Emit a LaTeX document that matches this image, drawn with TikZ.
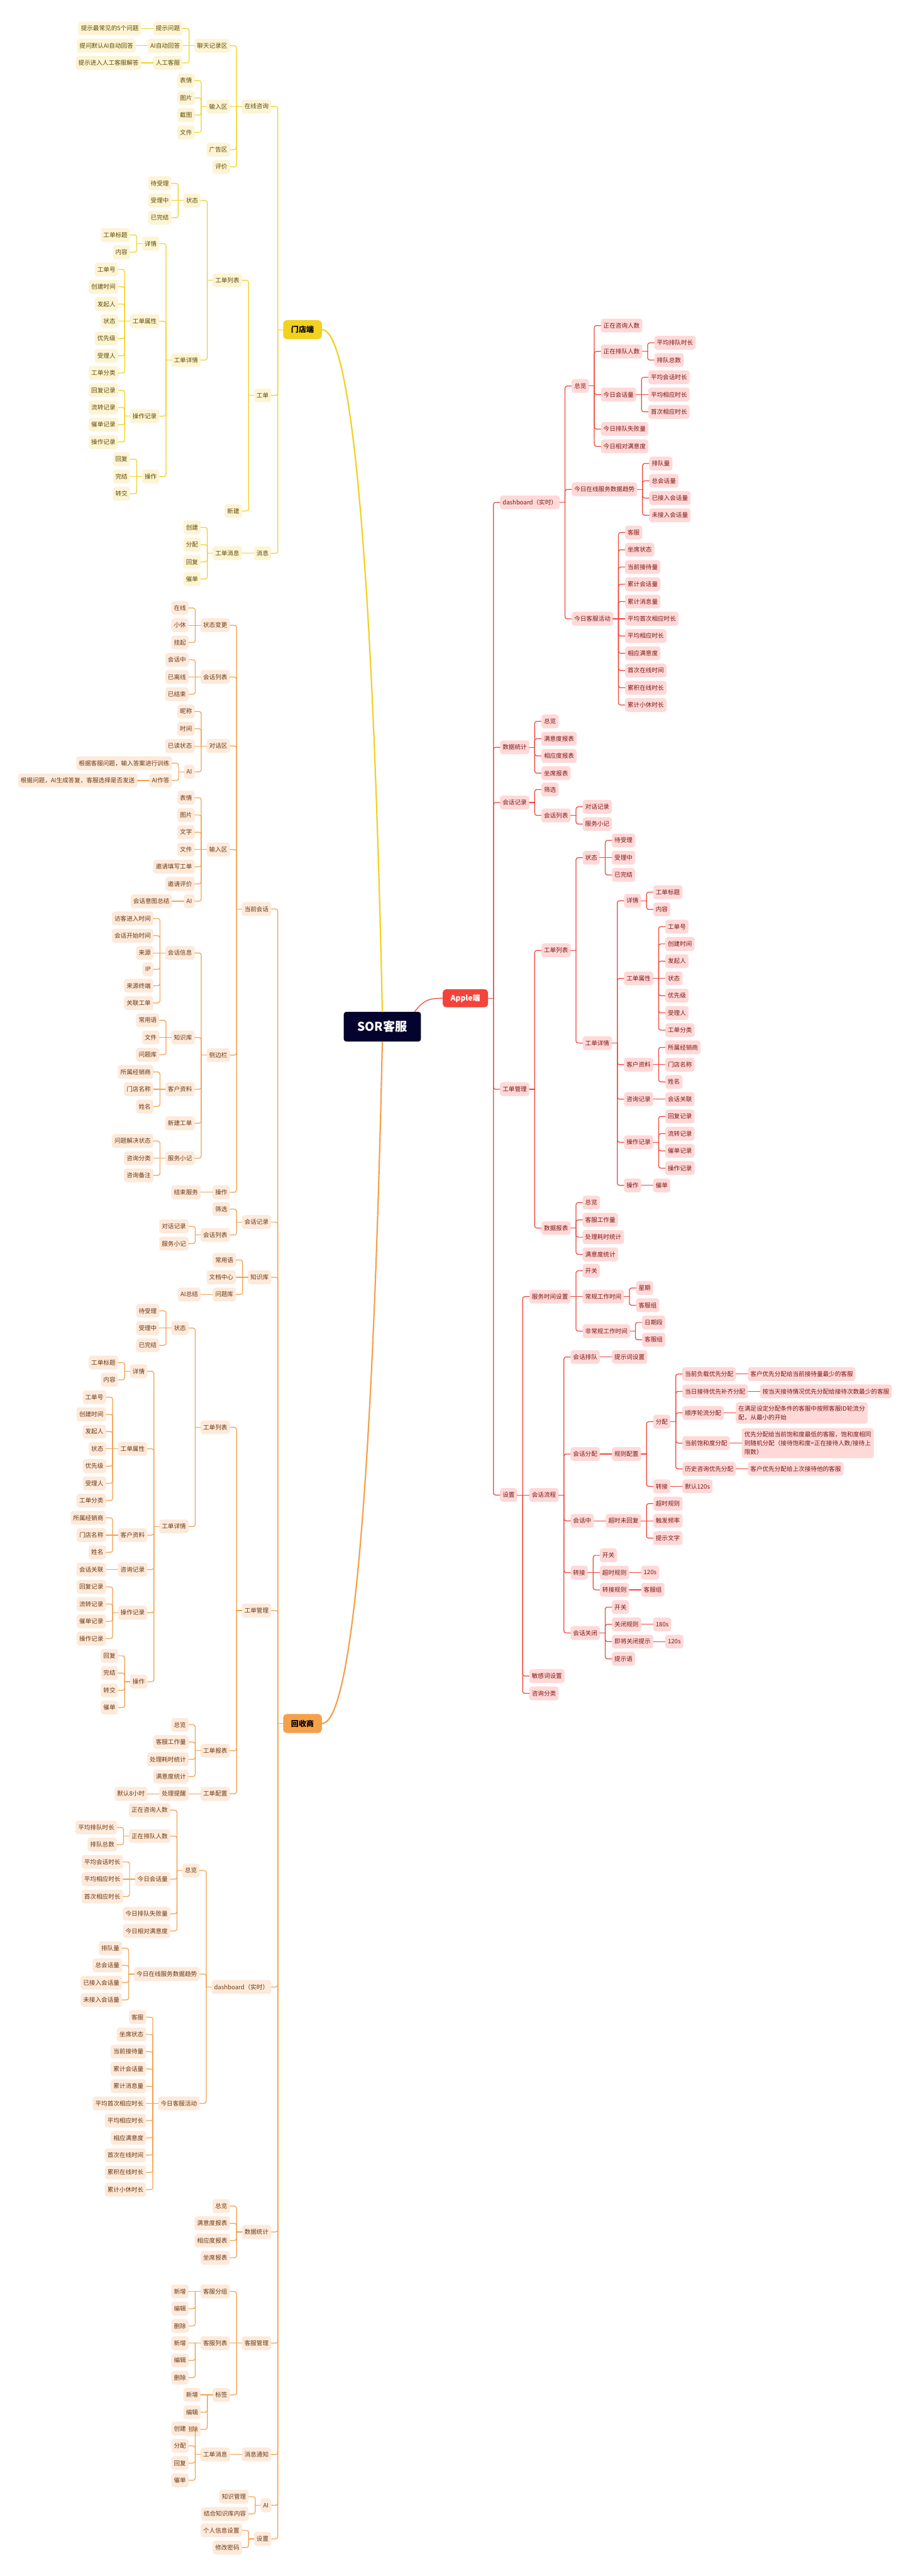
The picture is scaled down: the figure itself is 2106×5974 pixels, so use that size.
\documentclass[tikz,border=0pt]{standalone}
\usepackage{fontspec}
\newfontfamily\cjk{Noto Sans CJK SC}
\usetikzlibrary{calc}

\definecolor{yline}{HTML}{F2D11F}
\definecolor{yfill}{HTML}{FCF4D4}
\definecolor{ytext}{HTML}{5E4B05}
\definecolor{oline}{HTML}{F5A04A}
\definecolor{ofill}{HTML}{FDEADB}
\definecolor{otext}{HTML}{6B3812}
\definecolor{rline}{HTML}{F2443A}
\definecolor{rfill}{HTML}{FFD9D8}
\definecolor{rtext}{HTML}{7A1612}
\definecolor{navy}{HTML}{03032E}

\tikzset{
  nd/.style={font=\cjk\fontsize{7}{10.2}\selectfont, rounded corners=3pt,
    inner xsep=3pt, inner ysep=4pt, minimum height=16pt, align=left},
  lf/.style={nd}, rf/.style={nd}, br/.style={},
  trunk/.style={font=\cjk\bfseries\fontsize{8.8}{10}\selectfont,
    rounded corners=4pt, minimum width=44.8pt, minimum height=22pt},
}

\newdimen\brya
\newdimen\bryb

% child on the left: name, parent, y, text
\newcommand\lk[4]{%
  \node[lf,anchor=east] (#1) at ($(#2.west |- 0,#3)+(-27,0)$) {#4};
  \pgfextracty{\brya}{\pgfpointanchor{#2}{west}}%
  \pgfextracty{\bryb}{\pgfpointanchor{#1}{east}}%
  \advance\brya by -\bryb
  \ifdim\brya<0pt \brya=-\brya\fi
  \ifdim\brya<0.5pt
    \draw[br] (#2.west) -- (#1.east);
  \else
    \draw[br] (#2.west) -- ++(-12,0);
    \draw[br,rounded corners=2.5pt] (#2.west) ++(-12,0) |- (#1.east);
  \fi}

% child on the right
\newcommand\rk[4]{%
  \node[rf,anchor=west] (#1) at ($(#2.east |- 0,#3)+(27,0)$) {#4};
  \pgfextracty{\brya}{\pgfpointanchor{#2}{east}}%
  \pgfextracty{\bryb}{\pgfpointanchor{#1}{west}}%
  \advance\brya by -\bryb
  \ifdim\brya<0pt \brya=-\brya\fi
  \ifdim\brya<0.5pt
    \draw[br] (#2.east) -- (#1.west);
  \else
    \draw[br] (#2.east) -- ++(12,0);
    \draw[br,rounded corners=2.5pt] (#2.east) ++(12,0) |- (#1.west);
  \fi}

\begin{document}
\begin{tikzpicture}[x=0.5pt,y=-0.5pt,line cap=round,line join=round]
  \useasboundingbox (0,0) rectangle (2106,5974);
  \fill[white] (0,0) rectangle (2106,5974);

  % centre and the three sides
  \node[fill=navy,text=white,font=\cjk\bfseries\fontsize{14}{16}\selectfont,
    rounded corners=3pt,minimum width=89.5pt,minimum height=34.5pt] (r) at (886.8,2381) {SOR客服};
  \node[trunk,fill=yline,text=black] (m) at (701.6,764.5) {门店端};
  \node[trunk,fill=oline,text=black] (h) at (701.6,3997) {回收商};
  \node[trunk,fill=rline,text=white,minimum width=52.5pt,minimum height=21pt] (a) at (1079.5,2315) {Apple端};
  \draw[yline,line width=1.6pt] (m.east) .. controls +(54,0) and +(-27,-1247) .. (r.north);
  \draw[oline,line width=1.6pt] (h.east) .. controls +(54,0) and +(-27,1247) .. (r.south);
  \draw[rline,line width=0.9pt] (r.north) ++(75,0) .. controls +(20,-25) and +(-35,0) .. (a.west);

  % 门店端
  \begin{scope}[lf/.style={nd,fill=yfill,text=ytext}, br/.style={draw=yline,line width=0.9pt}]
    \lk{m1}{m}{247}{在线咨询}
    \lk{m1-1}{m1}{106}{聊天记录区}
    \foreach \txt/\sub [count=\n] in {提示问题/提示最常见的5个问题,AI自动回答/提问默认AI自动回答,人工客服/提示进入人工客服解答}{
      \lk{m1-1-\n}{m1-1}{26+40*\n}{\txt}
      \lk{m1-1-\n-1}{m1-1-\n}{26+40*\n}{\sub}
    }
    \lk{m1-2}{m1}{247}{输入区}
    \foreach \txt [count=\n] in {表情,图片,截图,文件} {\lk{m1-2-\n}{m1-2}{147+40*\n}{\txt}}
    \lk{m1-3}{m1}{347}{广告区}
    \lk{m1-4}{m1}{387}{评价}
    \lk{m2}{m}{917}{工单}
    \lk{m2-1}{m2}{650}{工单列表}
    \lk{m2-1-1}{m2-1}{465}{状态}
    \foreach \txt [count=\n] in {待受理,受理中,已完结} {\lk{m2-1-1-\n}{m2-1-1}{385+40*\n}{\txt}}
    \lk{m2-1-2}{m2-1}{835}{工单详情}
    \lk{m2-1-2-1}{m2-1-2}{565}{详情}
    \foreach \txt [count=\n] in {工单标题,内容} {\lk{m2-1-2-1-\n}{m2-1-2-1}{505+40*\n}{\txt}}
    \lk{m2-1-2-2}{m2-1-2}{745}{工单属性}
    \foreach \txt [count=\n] in {工单号,创建时间,发起人,状态,优先级,受理人,工单分类} {\lk{m2-1-2-2-\n}{m2-1-2-2}{585+40*\n}{\txt}}
    \lk{m2-1-2-3}{m2-1-2}{965}{操作记录}
    \foreach \txt [count=\n] in {回复记录,流转记录,催单记录,操作记录} {\lk{m2-1-2-3-\n}{m2-1-2-3}{865+40*\n}{\txt}}
    \lk{m2-1-2-4}{m2-1-2}{1105}{操作}
    \foreach \txt [count=\n] in {回复,完结,转交} {\lk{m2-1-2-4-\n}{m2-1-2-4}{1025+40*\n}{\txt}}
    \lk{m2-2}{m2}{1185}{新建}
    \lk{m3}{m}{1283}{消息}
    \lk{m3-1}{m3}{1283}{工单消息}
    \foreach \txt [count=\n] in {创建,分配,回复,催单} {\lk{m3-1-\n}{m3-1}{1183+40*\n}{\txt}}
  \end{scope}

  % 回收商
  \begin{scope}[lf/.style={nd,fill=ofill,text=otext}, br/.style={draw=oline,line width=0.9pt}]
    \lk{h1}{h}{2108}{当前会话}
    \lk{h1-1}{h1}{1450}{状态变更}
    \foreach \txt [count=\n] in {在线,小休,挂起} {\lk{h1-1-\n}{h1-1}{1370+40*\n}{\txt}}
    \lk{h1-2}{h1}{1570}{会话列表}
    \foreach \txt [count=\n] in {会话中,已离线,已结束} {\lk{h1-2-\n}{h1-2}{1490+40*\n}{\txt}}
    \lk{h1-3}{h1}{1730}{对话区}
    \foreach \txt [count=\n] in {昵称,时间,已读状态} {\lk{h1-3-\n}{h1-3}{1610+40*\n}{\txt}}
    \lk{h1-3-4}{h1-3}{1790}{AI}
    \lk{h1-3-4-1}{h1-3-4}{1770}{根据客服问题，输入答案进行训练}
    \lk{h1-3-4-2}{h1-3-4}{1810}{AI作答}
    \lk{h1-3-4-2-1}{h1-3-4-2}{1810}{根据问题，AI生成答复，客服选择是否发送}
    \lk{h1-4}{h1}{1970}{输入区}
    \foreach \txt [count=\n] in {表情,图片,文字,文件,邀请填写工单,邀请评价,AI} {\lk{h1-4-\n}{h1-4}{1810+40*\n}{\txt}}
    \lk{h1-4-7-1}{h1-4-7}{2090}{会话意图总结}
    \lk{h1-5}{h1}{2447}{侧边栏}
    \lk{h1-5-1}{h1-5}{2210}{会话信息}
    \foreach \txt/\yy [count=\n] in {访客进入时间/2130,会话开始时间/2170,来源/2210,IP/2248,来源终端/2286,关联工单/2326} {\lk{h1-5-1-\n}{h1-5-1}{\yy}{\txt}}
    \lk{h1-5-2}{h1-5}{2406}{知识库}
    \foreach \txt [count=\n] in {常用语,文件,问题库} {\lk{h1-5-2-\n}{h1-5-2}{2326+40*\n}{\txt}}
    \lk{h1-5-3}{h1-5}{2526}{客户资料}
    \foreach \txt [count=\n] in {所属经销商,门店名称,姓名} {\lk{h1-5-3-\n}{h1-5-3}{2446+40*\n}{\txt}}
    \lk{h1-5-4}{h1-5}{2605}{新建工单}
    \lk{h1-5-5}{h1-5}{2686}{服务小记}
    \foreach \txt [count=\n] in {问题解决状态,咨询分类,咨询备注} {\lk{h1-5-5-\n}{h1-5-5}{2606+40*\n}{\txt}}
    \lk{h1-6}{h1}{2765}{操作}
    \lk{h1-6-1}{h1-6}{2765}{结束服务}
    \lk{h2}{h}{2834}{会话记录}
    \lk{h2-1}{h2}{2804}{筛选}
    \lk{h2-2}{h2}{2864}{会话列表}
    \lk{h2-2-1}{h2-2}{2844}{对话记录}
    \lk{h2-2-2}{h2-2}{2884}{服务小记}
    \lk{h3}{h}{2962}{知识库}
    \foreach \txt [count=\n] in {常用语,文档中心,问题库} {\lk{h3-\n}{h3}{2882+40*\n}{\txt}}
    \lk{h3-3-1}{h3-3}{3002}{AI总结}
    \lk{h4}{h}{3735}{工单管理}
    \lk{h4-1}{h4}{3310}{工单列表}
    \lk{h4-1-1}{h4-1}{3080}{状态}
    \foreach \txt [count=\n] in {待受理,受理中,已完结} {\lk{h4-1-1-\n}{h4-1-1}{3000+40*\n}{\txt}}
    \lk{h4-1-2}{h4-1}{3540}{工单详情}
    \lk{h4-1-2-1}{h4-1-2}{3180}{详情}
    \foreach \txt [count=\n] in {工单标题,内容} {\lk{h4-1-2-1-\n}{h4-1-2-1}{3120+40*\n}{\txt}}
    \lk{h4-1-2-2}{h4-1-2}{3360}{工单属性}
    \foreach \txt [count=\n] in {工单号,创建时间,发起人,状态,优先级,受理人,工单分类} {\lk{h4-1-2-2-\n}{h4-1-2-2}{3200+40*\n}{\txt}}
    \lk{h4-1-2-3}{h4-1-2}{3560}{客户资料}
    \foreach \txt [count=\n] in {所属经销商,门店名称,姓名} {\lk{h4-1-2-3-\n}{h4-1-2-3}{3480+40*\n}{\txt}}
    \lk{h4-1-2-4}{h4-1-2}{3640}{咨询记录}
    \lk{h4-1-2-4-1}{h4-1-2-4}{3640}{会话关联}
    \lk{h4-1-2-5}{h4-1-2}{3740}{操作记录}
    \foreach \txt [count=\n] in {回复记录,流转记录,催单记录,操作记录} {\lk{h4-1-2-5-\n}{h4-1-2-5}{3640+40*\n}{\txt}}
    \lk{h4-1-2-6}{h4-1-2}{3900}{操作}
    \foreach \txt [count=\n] in {回复,完结,转交,催单} {\lk{h4-1-2-6-\n}{h4-1-2-6}{3800+40*\n}{\txt}}
    \lk{h4-2}{h4}{4060}{工单报表}
    \foreach \txt [count=\n] in {总览,客服工作量,处理耗时统计,满意度统计} {\lk{h4-2-\n}{h4-2}{3960+40*\n}{\txt}}
    \lk{h4-3}{h4}{4160}{工单配置}
    \lk{h4-3-1}{h4-3}{4160}{处理提醒}
    \lk{h4-3-1-1}{h4-3-1}{4160}{默认8小时}
    \lk{h5}{h}{4608}{dashboard（实时）}
    \lk{h5-1}{h5}{4338}{总览}
    \lk{h5-1-1}{h5-1}{4198}{正在咨询人数}
    \lk{h5-1-2}{h5-1}{4258}{正在排队人数}
    \foreach \txt [count=\n] in {平均排队时长,排队总数} {\lk{h5-1-2-\n}{h5-1-2}{4198+40*\n}{\txt}}
    \lk{h5-1-3}{h5-1}{4358}{今日会话量}
    \foreach \txt [count=\n] in {平均会话时长,平均相应时长,首次相应时长} {\lk{h5-1-3-\n}{h5-1-3}{4278+40*\n}{\txt}}
    \lk{h5-1-4}{h5-1}{4438}{今日排队失败量}
    \lk{h5-1-5}{h5-1}{4478}{今日相对满意度}
    \lk{h5-2}{h5}{4578}{今日在线服务数据趋势}
    \foreach \txt [count=\n] in {排队量,总会话量,已接入会话量,未接入会话量} {\lk{h5-2-\n}{h5-2}{4478+40*\n}{\txt}}
    \lk{h5-3}{h5}{4878}{今日客服活动}
    \foreach \txt [count=\n] in {客服,坐席状态,当前接待量,累计会话量,累计消息量,平均首次相应时长,平均相应时长,相应满意度,首次在线时间,累积在线时长,累计小休时长} {\lk{h5-3-\n}{h5-3}{4638+40*\n}{\txt}}
    \lk{h6}{h}{5176}{数据统计}
    \foreach \txt [count=\n] in {总览,满意度报表,相应度报表,坐席报表} {\lk{h6-\n}{h6}{5076+40*\n}{\txt}}
    \lk{h7}{h}{5434}{客服管理}
    \foreach \txt [count=\k] in {客服分组,客服列表,标签} {
      \lk{h7-\k}{h7}{5194+120*\k}{\txt}
      \foreach \sub [count=\n] in {新增,编辑,删除} {\lk{h7-\k-\n}{h7-\k}{5154+120*\k+40*\n}{\sub}}
    }
    \lk{h8}{h}{5692}{消息通知}
    \lk{h8-1}{h8}{5692}{工单消息}
    \foreach \txt [count=\n] in {创建,分配,回复,催单} {\lk{h8-1-\n}{h8-1}{5592+40*\n}{\txt}}
    \lk{h9}{h}{5810}{AI}
    \foreach \txt [count=\n] in {知识管理,结合知识库内容} {\lk{h9-\n}{h9}{5750+40*\n}{\txt}}
    \lk{h10}{h}{5888}{设置}
    \foreach \txt [count=\n] in {个人信息设置,修改密码} {\lk{h10-\n}{h10}{5828+40*\n}{\txt}}
  \end{scope}

  % Apple端
  \begin{scope}[rf/.style={nd,fill=rfill,text=rtext}, br/.style={draw=rline,line width=0.9pt}]
    \rk{a1}{a}{1165}{dashboard（实时）}
    \rk{a1-1}{a1}{895}{总览}
    \rk{a1-1-1}{a1-1}{755}{正在咨询人数}
    \rk{a1-1-2}{a1-1}{815}{正在排队人数}
    \foreach \txt [count=\n] in {平均排队时长,排队总数} {\rk{a1-1-2-\n}{a1-1-2}{755+40*\n}{\txt}}
    \rk{a1-1-3}{a1-1}{915}{今日会话量}
    \foreach \txt [count=\n] in {平均会话时长,平均相应时长,首次相应时长} {\rk{a1-1-3-\n}{a1-1-3}{835+40*\n}{\txt}}
    \rk{a1-1-4}{a1-1}{995}{今日排队失败量}
    \rk{a1-1-5}{a1-1}{1035}{今日相对满意度}
    \rk{a1-2}{a1}{1135}{今日在线服务数据趋势}
    \foreach \txt [count=\n] in {排队量,总会话量,已接入会话量,未接入会话量} {\rk{a1-2-\n}{a1-2}{1035+40*\n}{\txt}}
    \rk{a1-3}{a1}{1435}{今日客服活动}
    \foreach \txt [count=\n] in {客服,坐席状态,当前接待量,累计会话量,累计消息量,平均首次相应时长,平均相应时长,相应满意度,首次在线时间,累积在线时长,累计小休时长} {\rk{a1-3-\n}{a1-3}{1195+40*\n}{\txt}}
    \rk{a2}{a}{1733}{数据统计}
    \foreach \txt [count=\n] in {总览,满意度报表,相应度报表,坐席报表} {\rk{a2-\n}{a2}{1633+40*\n}{\txt}}
    \rk{a3}{a}{1861}{会话记录}
    \rk{a3-1}{a3}{1831}{筛选}
    \rk{a3-2}{a3}{1891}{会话列表}
    \rk{a3-2-1}{a3-2}{1871}{对话记录}
    \rk{a3-2-2}{a3-2}{1911}{服务小记}
    \rk{a4}{a}{2526}{工单管理}
    \rk{a4-1}{a4}{2204}{工单列表}
    \rk{a4-1-1}{a4-1}{1989}{状态}
    \foreach \txt [count=\n] in {待受理,受理中,已完结} {\rk{a4-1-1-\n}{a4-1-1}{1909+40*\n}{\txt}}
    \rk{a4-1-2}{a4-1}{2419}{工单详情}
    \rk{a4-1-2-1}{a4-1-2}{2089}{详情}
    \foreach \txt [count=\n] in {工单标题,内容} {\rk{a4-1-2-1-\n}{a4-1-2-1}{2029+40*\n}{\txt}}
    \rk{a4-1-2-2}{a4-1-2}{2269}{工单属性}
    \foreach \txt [count=\n] in {工单号,创建时间,发起人,状态,优先级,受理人,工单分类} {\rk{a4-1-2-2-\n}{a4-1-2-2}{2109+40*\n}{\txt}}
    \rk{a4-1-2-3}{a4-1-2}{2469}{客户资料}
    \foreach \txt [count=\n] in {所属经销商,门店名称,姓名} {\rk{a4-1-2-3-\n}{a4-1-2-3}{2389+40*\n}{\txt}}
    \rk{a4-1-2-4}{a4-1-2}{2549}{咨询记录}
    \rk{a4-1-2-4-1}{a4-1-2-4}{2549}{会话关联}
    \rk{a4-1-2-5}{a4-1-2}{2649}{操作记录}
    \foreach \txt [count=\n] in {回复记录,流转记录,催单记录,操作记录} {\rk{a4-1-2-5-\n}{a4-1-2-5}{2549+40*\n}{\txt}}
    \rk{a4-1-2-6}{a4-1-2}{2749}{操作}
    \rk{a4-1-2-6-1}{a4-1-2-6}{2749}{催单}
    \rk{a4-2}{a4}{2848}{数据报表}
    \foreach \txt [count=\n] in {总览,客服工作量,处理耗时统计,满意度统计} {\rk{a4-2-\n}{a4-2}{2749+40*\n}{\txt}}
    \rk{a5}{a}{3467}{设置}
    \rk{a5-1}{a5}{3007}{服务时间设置}
    \rk{a5-1-1}{a5-1}{2947}{开关}
    \rk{a5-1-2}{a5-1}{3007}{常规工作时间}
    \rk{a5-1-2-1}{a5-1-2}{2987}{星期}
    \rk{a5-1-2-2}{a5-1-2}{3027}{客服组}
    \rk{a5-1-3}{a5-1}{3087}{非常规工作时间}
    \rk{a5-1-3-1}{a5-1-3}{3067}{日期段}
    \rk{a5-1-3-2}{a5-1-3}{3107}{客服组}
    \rk{a5-2}{a5}{3467}{会话流程}
    \rk{a5-2-1}{a5-2}{3147}{会话排队}
    \rk{a5-2-1-1}{a5-2-1}{3147}{提示词设置}
    \rk{a5-2-2}{a5-2}{3372}{会话分配}
    \rk{a5-2-2-1}{a5-2-2}{3372}{规则配置}
    \rk{a5-2-2-1-1}{a5-2-2-1}{3297}{分配}
    \rk{a5-2-2-1-1-1}{a5-2-2-1-1}{3186.5}{当前负载优先分配}
    \rk{a5-2-2-1-1-1-1}{a5-2-2-1-1-1}{3186.5}{客户优先分配给当前接待量最少的客服}
    \rk{a5-2-2-1-1-2}{a5-2-2-1-1}{3226.7}{当日接待优先补齐分配}
    \rk{a5-2-2-1-1-2-1}{a5-2-2-1-1-2}{3226.7}{按当天接待情况优先分配给接待次数最少的客服}
    \rk{a5-2-2-1-1-3}{a5-2-2-1-1}{3276.6}{顺序轮流分配}
    \rk{a5-2-2-1-1-3-1}{a5-2-2-1-1-3}{3276.6}{在满足设定分配条件的客服中按照客服ID轮流分\\配，从最小的开始}
    \rk{a5-2-2-1-1-4}{a5-2-2-1-1}{3346.7}{当前饱和度分配}
    \rk{a5-2-2-1-1-4-1}{a5-2-2-1-1-4}{3346.7}{优先分配给当前饱和度最低的客服，饱和度相同\\则随机分配（接待饱和度=正在接待人数/接待上\\限数）}
    \rk{a5-2-2-1-1-5}{a5-2-2-1-1}{3406.5}{历史咨询优先分配}
    \rk{a5-2-2-1-1-5-1}{a5-2-2-1-1-5}{3406.5}{客户优先分配给上次接待他的客服}
    \rk{a5-2-2-1-2}{a5-2-2-1}{3447}{转接}
    \rk{a5-2-2-1-2-1}{a5-2-2-1-2}{3447}{默认120s}
    \rk{a5-2-3}{a5-2}{3527}{会话中}
    \rk{a5-2-3-1}{a5-2-3}{3527}{超时未回复}
    \foreach \txt [count=\n] in {超时规则,触发频率,提示文字} {\rk{a5-2-3-1-\n}{a5-2-3-1}{3447+40*\n}{\txt}}
    \rk{a5-2-4}{a5-2}{3647}{转接}
    \rk{a5-2-4-1}{a5-2-4}{3607}{开关}
    \rk{a5-2-4-2}{a5-2-4}{3647}{超时规则}
    \rk{a5-2-4-2-1}{a5-2-4-2}{3647}{120s}
    \rk{a5-2-4-3}{a5-2-4}{3687}{转接规则}
    \rk{a5-2-4-3-1}{a5-2-4-3}{3687}{客服组}
    \rk{a5-2-5}{a5-2}{3787}{会话关闭}
    \rk{a5-2-5-1}{a5-2-5}{3727}{开关}
    \rk{a5-2-5-2}{a5-2-5}{3767}{关闭规则}
    \rk{a5-2-5-2-1}{a5-2-5-2}{3767}{180s}
    \rk{a5-2-5-3}{a5-2-5}{3807}{即将关闭提示}
    \rk{a5-2-5-3-1}{a5-2-5-3}{3807}{120s}
    \rk{a5-2-5-4}{a5-2-5}{3847}{提示语}
    \rk{a5-3}{a5}{3887}{敏感词设置}
    \rk{a5-4}{a5}{3927}{咨询分类}
  \end{scope}
\end{tikzpicture}
\end{document}
